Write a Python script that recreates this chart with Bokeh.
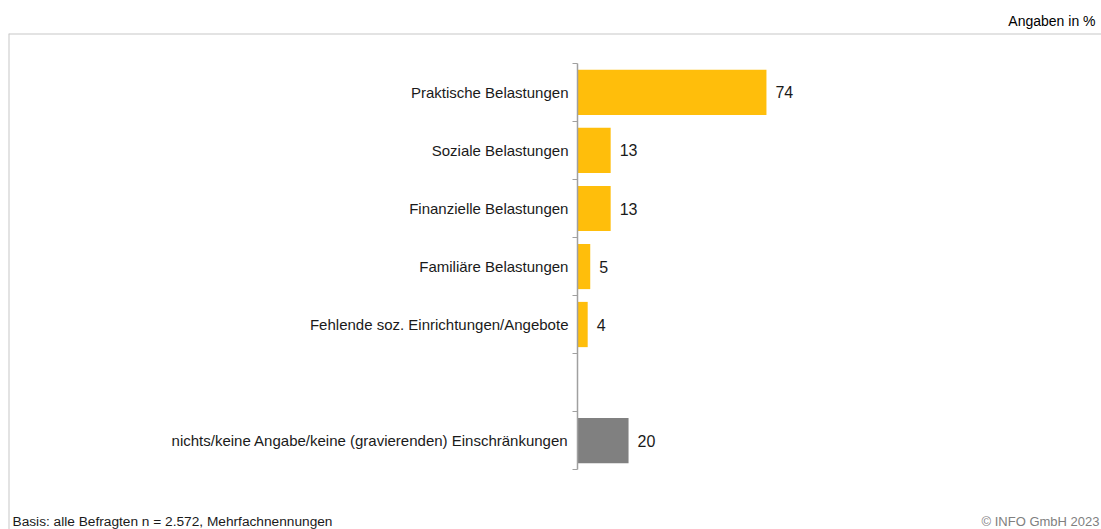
from bokeh.plotting import figure
from bokeh.models import Range1d, FixedTicker, Span, Label, ColumnDataSource
from bokeh.core.properties import value
from bokeh.embed import file_html
from bokeh.resources import INLINE

# ---- data ----
categories = [
    "Praktische Belastungen",
    "Soziale Belastungen",
    "Finanzielle Belastungen",
    "Familiäre Belastungen",
    "Fehlende soz. Einrichtungen/Angebote",
    "",
    "nichts/keine Angabe/keine (gravierenden) Einschränkungen",
]
values = [74, 13, 13, 5, 4, None, 20]
groups = ["main", "main", "main", "main", "main", "gap", "none"]
colors_by_group = {"main": "#FFBE0B", "none": "#808080"}
unit_label = "Angaben in %"
footer_left = "Basis: alle Befragten n = 2.572, Mehrfachnennungen"
footer_right = "© INFO GmbH 2023"

FONT = "Liberation Sans"

pos = list(range(len(categories)))
bar_y = [pos[i] for i in range(len(categories)) if values[i] is not None]
bar_v = [values[i] for i in range(len(categories)) if values[i] is not None]
bar_c = [colors_by_group[groups[i]] for i in range(len(categories)) if values[i] is not None]
src = ColumnDataSource(dict(y=bar_y, v=bar_v, c=bar_c, t=[str(v) for v in bar_v]))

W, H = 1101, 529
X0, X1 = -222.8, 205.2
Y_BOTTOM, Y_TOP = 7.534, -1.017
p = figure(
    width=W, height=H, output_backend="svg", toolbar_location=None,
    x_range=Range1d(X0, X1), y_range=Range1d(Y_BOTTOM, Y_TOP),
    min_border_left=8, min_border_right=0, min_border_top=33, min_border_bottom=0,
    title=unit_label,
)
p.title.align = "right"
p.title.text_font = FONT
p.title.text_font_size = "14px"
p.title.text_font_style = "normal"
p.title.text_color = "#000000"
p.title.offset = 6

p.xaxis.visible = False
p.grid.visible = False
p.outline_line_color = None
p.background_fill_color = "white"
p.border_fill_color = "white"

# frame lines (top & left)
p.add_layout(Span(location=Y_TOP, dimension="width", line_color="#c8c8c8", line_width=2))
p.add_layout(Span(location=X0, dimension="height", line_color="#c8c8c8", line_width=2))

p.hbar(y="y", right="v", left=0, height=0.78, fill_color="c", line_color=None, source=src)

p.text(x="v", y="y", text="t", x_offset=9, text_baseline="middle", text_align="left",
       text_font=value(FONT), text_font_size="16px", text_color="#1a1a1a", source=src)

yax = p.yaxis[0]
yax.fixed_location = 0
yax.bounds = (-0.5, len(categories) - 0.5)
yax.ticker = FixedTicker(ticks=pos, minor_ticks=[i - 0.5 for i in range(len(categories) + 1)])
yax.major_label_overrides = {i: c for i, c in enumerate(categories)}
yax.major_tick_in = 0
yax.major_tick_out = 0
yax.minor_tick_in = 0
yax.minor_tick_out = 5
yax.minor_tick_line_color = "#a0a0a0"
yax.axis_line_color = "#a0a0a0"
yax.axis_line_width = 1.5
yax.major_label_standoff = 4
yax.major_label_text_font = FONT
yax.major_label_text_font_size = "15px"
yax.major_label_text_color = "#1a1a1a"

p.add_layout(Label(x=X0, y=7.40, x_offset=4, text=footer_left, text_baseline="middle",
                   text_font=FONT, text_font_size="13.7px", text_color="#1a1a1a"))
p.add_layout(Label(x=X1, y=7.40, x_offset=-2, text=footer_right, text_baseline="middle",
                   text_align="right",
                   text_font=FONT, text_font_size="13px", text_color="#808080"))

open("out.html", "w").write(file_html(p, INLINE))
